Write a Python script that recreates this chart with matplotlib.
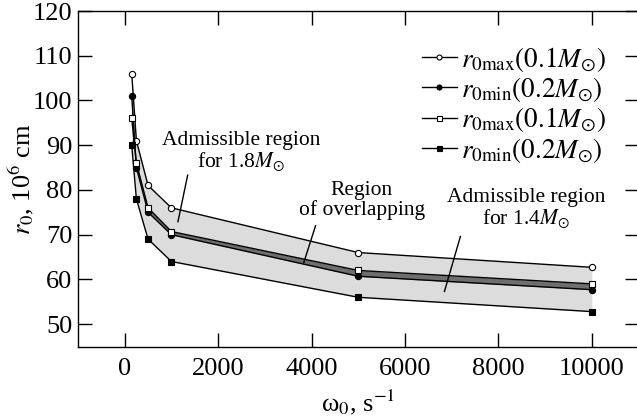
import matplotlib
matplotlib.use("Agg")
import matplotlib.pyplot as plt
import numpy as np

# data
omega = [150, 250, 500, 1000, 5000, 10000]
r0max_18 = [106, 91, 81, 76, 66, 62.7]      # open circles
r0min_18 = [101, 85, 75, 70, 60.7, 57.7]    # filled circles
r0max_14 = [96, 86, 76, 70.7, 62, 59]       # open squares
r0min_14 = [90, 78, 69, 64, 56, 52.8]       # filled squares

labels = [r'$r_{0\mathrm{max}}(0.1M_{\odot})$',
          r'$r_{0\mathrm{min}}(0.2M_{\odot})$',
          r'$r_{0\mathrm{max}}(0.1M_{\odot})$',
          r'$r_{0\mathrm{min}}(0.2M_{\odot})$']

xticks = [0, 2000, 4000, 6000, 8000, 10000]
yticks = [50, 60, 70, 80, 90, 100, 110, 120]

plt.rcParams['font.family'] = ['Liberation Serif', 'DejaVu Serif']
plt.rcParams['mathtext.fontset'] = 'stix'


def main():
    fig = plt.figure(figsize=(6.37, 4.18), dpi=100)
    W, H = 637.0, 418.0
    ax = fig.add_axes([78 / W, (H - 346.5) / H, 560.5 / W, 335.5 / H])

    # shaded regions
    ax.fill_between(omega, r0max_18, r0min_14, color='#dcdcdc', lw=0, zorder=1)
    ax.fill_between(omega, r0max_14, r0min_18, color='#6e6e6e', lw=0, zorder=2)

    lw = 1.0
    ms = 4.5
    ax.plot(omega, r0max_18, color='black', lw=lw, marker='o', ms=ms,
            mfc='white', mec='black', mew=0.8, label=labels[0], zorder=3)
    ax.plot(omega, r0min_18, color='black', lw=lw, marker='o', ms=ms,
            mfc='black', mec='black', mew=0.8, label=labels[1], zorder=3)
    ax.plot(omega, r0max_14, color='black', lw=lw, marker='s', ms=ms,
            mfc='white', mec='black', mew=0.8, label=labels[2], zorder=4)
    ax.plot(omega, r0min_14, color='black', lw=lw, marker='s', ms=ms,
            mfc='black', mec='black', mew=0.8, label=labels[3], zorder=3)

    ax.set_xlim(-1000, 11000)
    ax.set_ylim(45, 120)
    ax.set_xticks(xticks)
    ax.set_yticks(yticks)
    ax.tick_params(direction='in', top=True, right=True, length=10,
                   width=1, labelsize=19)
    ax.tick_params(axis='x', pad=8)
    ax.tick_params(axis='y', pad=4)
    for s in ax.spines.values():
        s.set_linewidth(1)

    ax.set_xlabel(r'ω$_0$, s$^{-1}$', fontsize=19, labelpad=6)
    ax.set_ylabel(r'$r_0$, 10$^6$ cm', fontsize=19, labelpad=-2)

    # annotations: text blocks and pointer lines
    fs = 15.5
    ax.text(2490, 88.5, 'Admissible region\nfor 1.8$M_{\\odot}$', fontsize=fs,
            ha='center', va='center', linespacing=1.05)
    ax.plot([1348, 1140], [83.3, 72.9], color='black', lw=1, zorder=5)

    ax.text(5080, 77.6, 'Region\nof overlapping', fontsize=fs,
            ha='center', va='center', linespacing=1.05)
    ax.plot([4086, 3835], [72.0, 63.8], color='black', lw=1, zorder=5)

    ax.text(8600, 75.8, 'Admissible region\nfor 1.4$M_{\\odot}$', fontsize=fs,
            ha='center', va='center', linespacing=1.05)
    ax.plot([7187, 6845], [69.6, 57.3], color='black', lw=1, zorder=5)

    ax.legend(loc='upper left', bbox_to_anchor=(408 / W, (H - 31) / H),
              bbox_transform=fig.transFigure, frameon=False, fontsize=19.5,
              handlelength=1.3, handletextpad=0.15, labelspacing=0.05,
              borderpad=0, markerscale=0.8)

    fig.savefig('out.png', dpi=100)


if __name__ == '__main__':
    main()
